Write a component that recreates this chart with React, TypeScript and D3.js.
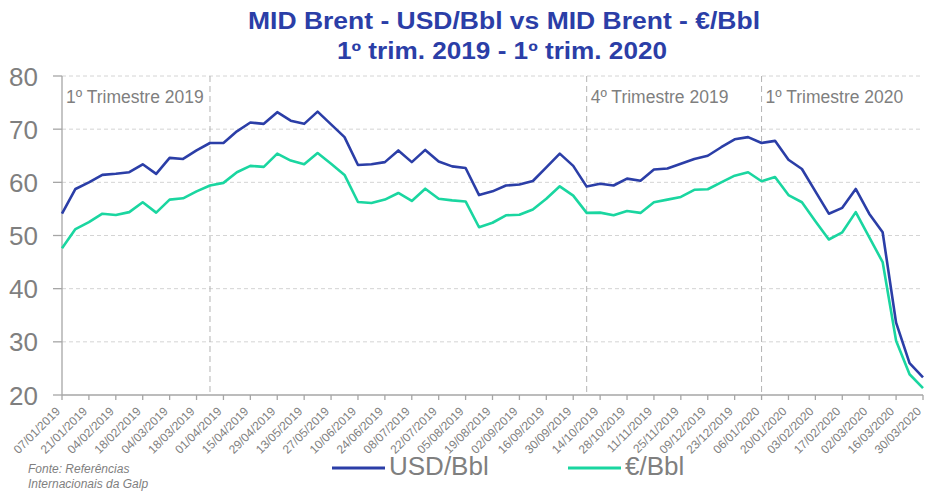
import React, { useEffect, useRef } from 'react';
import * as d3 from 'd3';

// weekly quotes, Mondays from 07/01/2019 to 30/03/2020
const usdBbl = [
  54.1, 58.75, 60.0, 61.4, 61.6, 61.9, 63.4, 61.6, 64.6, 64.4, 66.0, 67.4, 67.4,
  69.6, 71.25, 71.0, 73.2, 71.6, 71.0, 73.3, 70.9, 68.5, 63.25, 63.4, 63.8, 66.0,
  63.8, 66.1, 63.9, 63.0, 62.7, 57.6, 58.3, 59.4, 59.6, 60.25, 62.8, 65.4, 63.1,
  59.2, 59.75, 59.4, 60.7, 60.3, 62.4, 62.6, 63.5, 64.4, 65.0, 66.6, 68.1, 68.5,
  67.4, 67.8, 64.25, 62.5, 58.3, 54.1, 55.2, 58.75, 54.1, 50.6, 33.6, 26.0, 23.3,
];
const eurBbl = [
  47.6, 51.2, 52.5, 54.1, 53.85, 54.4, 56.25, 54.3, 56.75, 57.0, 58.3, 59.4, 59.9,
  61.9, 63.1, 62.9, 65.4, 64.1, 63.4, 65.5, 63.5, 61.4, 56.3, 56.1, 56.75, 58.0,
  56.5, 58.8, 56.9, 56.6, 56.4, 51.55, 52.4, 53.8, 53.9, 54.9, 56.9, 59.25, 57.5,
  54.25, 54.3, 53.8, 54.6, 54.25, 56.25, 56.75, 57.25, 58.6, 58.7, 60.0, 61.25, 61.9,
  60.2, 61.0, 57.6, 56.25, 52.7, 49.25, 50.6, 54.4, 49.7, 45.0, 30.2, 23.9, 21.3,
];

const tickLabels = [
  '07/01/2019', '21/01/2019', '04/02/2019', '18/02/2019', '04/03/2019', '18/03/2019',
  '01/04/2019', '15/04/2019', '29/04/2019', '13/05/2019', '27/05/2019', '10/06/2019',
  '24/06/2019', '08/07/2019', '22/07/2019', '05/08/2019', '19/08/2019', '02/09/2019',
  '16/09/2019', '30/09/2019', '14/10/2019', '28/10/2019', '11/11/2019', '25/11/2019',
  '09/12/2019', '23/12/2019', '06/01/2020', '20/01/2020', '03/02/2020', '17/02/2020',
  '02/03/2020', '16/03/2020', '30/03/2020',
];
const yTicks = [20, 30, 40, 50, 60, 70, 80];

const quarterLines = ['25/03/2019', '07/10/2019', '06/01/2020'];
const quarterLabels = [
  { date: '07/01/2019', text: '1º Trimestre 2019' },
  { date: '07/10/2019', text: '4º Trimestre 2019' },
  { date: '06/01/2020', text: '1º Trimestre 2020' },
];

const BLUE = '#2b3ea7';
const GREEN = '#1ad6a0';
const GREY = '#7f7f7f';
const FONT = '"Liberation Sans", Arial, sans-serif';

const W = 926;
const H = 493;

export default function App() {
  const svgRef = useRef<SVGSVGElement>(null);

  useEffect(() => {
    document.body.style.margin = '0';
    if (!svgRef.current) return;
    const svg = d3.select(svgRef.current);
    svg.selectAll('*').remove();

    const parse = d3.timeParse('%d/%m/%Y');
    const start = parse(tickLabels[0])!;
    const dates = usdBbl.map((_, i) => d3.timeMonday.offset(start, i));

    const left = 62, right = 923, top = 76, bottom = 395;

    const x = d3.scaleTime()
      .domain([dates[0], dates[dates.length - 1]])
      .range([left, right]);
    const y = d3.scaleLinear().domain([20, 80]).range([bottom, top]);

    svg.append('rect').attr('width', W).attr('height', H).attr('fill', '#fff');

    // title
    const title = svg.append('text')
      .attr('text-anchor', 'middle')
      .style('font-family', FONT)
      .style('font-weight', 'bold')
      .style('font-size', '23px')
      .attr('fill', BLUE);
    title.append('tspan').attr('x', 504).attr('y', 29)
      .attr('textLength', 512).attr('lengthAdjust', 'spacingAndGlyphs')
      .text('MID Brent - USD/Bbl vs MID Brent - €/Bbl');
    title.append('tspan').attr('x', 502).attr('y', 59)
      .attr('textLength', 330).attr('lengthAdjust', 'spacingAndGlyphs')
      .text('1º trim. 2019 - 1º trim. 2020');

    // gridlines
    svg.append('g')
      .selectAll('line')
      .data(yTicks.filter(d => d > 20))
      .join('line')
      .attr('x1', left).attr('x2', right)
      .attr('y1', d => y(d)).attr('y2', d => y(d))
      .attr('stroke', '#d4d4d4')
      .attr('stroke-dasharray', '4,3');

    // quarter separators
    svg.append('g')
      .selectAll('line')
      .data(quarterLines)
      .join('line')
      .attr('x1', d => x(parse(d)!)).attr('x2', d => x(parse(d)!))
      .attr('y1', top).attr('y2', bottom)
      .attr('stroke', '#b4b4b4')
      .attr('stroke-dasharray', '6,4');

    svg.append('g')
      .selectAll('text')
      .data(quarterLabels)
      .join('text')
      .attr('x', d => x(parse(d.date)!) + 4)
      .attr('y', 103)
      .style('font-family', FONT)
      .style('font-size', '17.5px')
      .attr('fill', GREY)
      .text(d => d.text);

    // y axis
    const axisColor = '#a6a6a6';
    svg.append('line')
      .attr('x1', left).attr('x2', left)
      .attr('y1', top).attr('y2', bottom)
      .attr('stroke', axisColor).attr('stroke-width', 1.3);
    const yg = svg.append('g');
    yg.selectAll('line')
      .data(yTicks)
      .join('line')
      .attr('x1', left - 9).attr('x2', left)
      .attr('y1', d => y(d)).attr('y2', d => y(d))
      .attr('stroke', axisColor).attr('stroke-width', 1.3);
    yg.selectAll('text')
      .data(yTicks)
      .join('text')
      .attr('x', 38)
      .attr('y', d => y(d) + 9.5)
      .attr('text-anchor', 'end')
      .style('font-family', FONT)
      .style('font-size', '26px')
      .attr('fill', GREY)
      .text(d => d);

    // x axis
    svg.append('line')
      .attr('x1', left).attr('x2', right)
      .attr('y1', bottom).attr('y2', bottom)
      .attr('stroke', axisColor).attr('stroke-width', 1.3);
    const xg = svg.append('g');
    xg.selectAll('line')
      .data(tickLabels)
      .join('line')
      .attr('x1', d => x(parse(d)!)).attr('x2', d => x(parse(d)!))
      .attr('y1', bottom).attr('y2', bottom + 5)
      .attr('stroke', axisColor).attr('stroke-width', 1.3);
    xg.selectAll('text')
      .data(tickLabels)
      .join('text')
      .attr('transform', d => `translate(${x(parse(d)!) - 1},${bottom + 17}) rotate(-45)`)
      .attr('text-anchor', 'end')
      .style('font-family', FONT)
      .style('font-size', '12px')
      .attr('fill', GREY)
      .text(d => d);

    // lines
    const line = d3.line<number>()
      .x((_, i) => x(dates[i]))
      .y(d => y(d));
    svg.append('path')
      .datum(eurBbl)
      .attr('d', line)
      .attr('fill', 'none')
      .attr('stroke', GREEN)
      .attr('stroke-width', 2.6)
      .attr('stroke-linejoin', 'round');
    svg.append('path')
      .datum(usdBbl)
      .attr('d', line)
      .attr('fill', 'none')
      .attr('stroke', BLUE)
      .attr('stroke-width', 2.6)
      .attr('stroke-linejoin', 'round');

    // legend
    const legend = [
      { label: 'USD/Bbl', color: BLUE, x: 332 },
      { label: '€/Bbl', color: GREEN, x: 568 },
    ];
    const lg = svg.append('g').selectAll('g').data(legend).join('g')
      .attr('transform', d => `translate(${d.x},468)`);
    lg.append('line')
      .attr('x1', 0).attr('x2', 53)
      .attr('stroke', d => d.color).attr('stroke-width', 3);
    lg.append('text')
      .attr('x', 57).attr('y', 7)
      .style('font-family', FONT)
      .style('font-size', '26px')
      .attr('fill', GREY)
      .text(d => d.label);

    // source
    const src = svg.append('text')
      .style('font-family', FONT)
      .style('font-size', '12px')
      .style('font-style', 'italic')
      .attr('fill', GREY);
    src.append('tspan').attr('x', 28).attr('y', 473).text('Fonte: Referências');
    src.append('tspan').attr('x', 28).attr('y', 488).text('Internacionais da Galp');
  }, []);

  return <svg ref={svgRef} width={W} height={H} style={{ display: 'block' }} />;
}
